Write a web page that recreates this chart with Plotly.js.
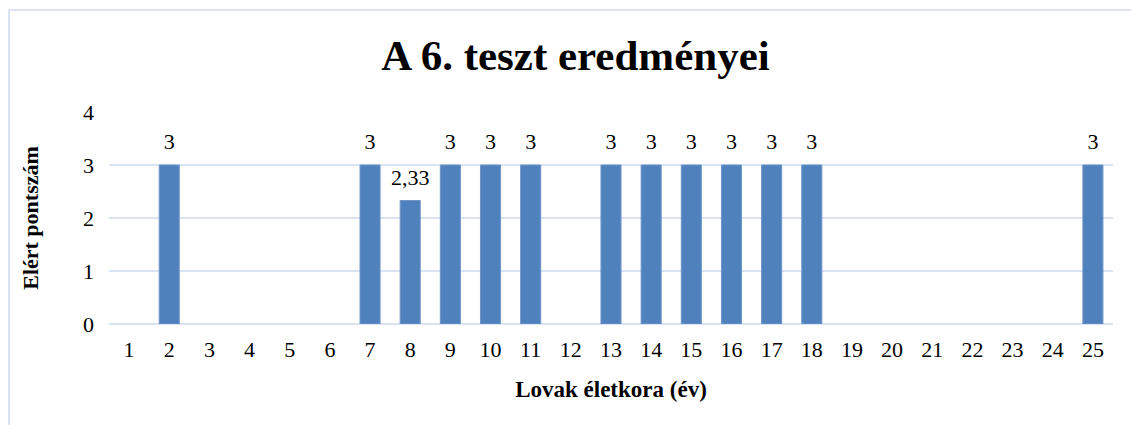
<!DOCTYPE html>
<html>
<head>
<meta charset="utf-8">
<script src="https://cdn.plot.ly/plotly-3.0.1.min.js"></script>
<style>
html,body{margin:0;padding:0;background:#fff;overflow:hidden;}
#wrap{position:relative;width:1131px;height:425px;}
#chart{position:absolute;left:0;top:0;width:1131px;height:425px;}
#frame{position:absolute;left:8px;top:9px;width:1200px;height:500px;border-left:2px solid #dae3f3;border-top:2px solid #dae3f3;pointer-events:none;}
</style>
</head>
<body>
<div id="wrap"><div id="chart"></div><div id="frame"></div></div>
<script>
const categories = ['1','2','3','4','5','6','7','8','9','10','11','12','13','14','15','16','17','18','19','20','21','22','23','24','25'];
const scores = [null,3,null,null,null,null,3,2.33,3,3,3,null,3,3,3,3,3,3,null,null,null,null,null,null,3];
const chartTitle = 'A 6. teszt eredményei';
const xTitle = 'Lovak életkora (év)';
const yTitle = 'Elért pontszám';
const yTicks = [0,1,2,3,4];

const font = 'Liberation Serif';
const grid = '#dae3f3';

Plotly.newPlot('chart', [{
  type: 'bar',
  x: categories,
  y: scores,
  marker: {color: '#4f81bd', line: {color: '#6f96c9', width: 1}},
  hoverinfo: 'none'
}, {
  type: 'scatter',
  mode: 'markers+text',
  x: categories,
  y: scores,
  marker: {size: 15, color: 'rgba(0,0,0,0)'},
  texttemplate: '%{y}',
  textposition: 'top center',
  cliponaxis: false,
  textfont: {family: font, size: 22, color: '#000'},
  hoverinfo: 'none'
}], {
  width: 1131, height: 425,
  margin: {l: 109, r: 18, t: 112, b: 101, pad: 0},
  paper_bgcolor: '#fff', plot_bgcolor: '#fff',
  separators: ', ',
  bargap: 0.5,
  showlegend: false,
  font: {family: font, color: '#000'},
  title: {text: '<b>' + chartTitle + '</b>', font: {family: font, size: 43, color: '#000'},
          x: 575.5/1131, xref: 'container', xanchor: 'center', y: 1 - 55/425, yanchor: 'middle'},
  xaxis: {type: 'category', categoryarray: categories, categoryorder: 'array',
          range: [-0.5, categories.length - 0.5], autorange: false,
          showgrid: false, zeroline: false, showline: false, ticks: '',
          tickfont: {family: font, size: 22, color: '#000'}, ticklabelstandoff: 10,
          title: {text: '<b>' + xTitle + '</b>', font: {family: font, size: 23, color: '#000'}, standoff: 19}},
  yaxis: {range: [0, 4], autorange: false, tickvals: yTicks, showgrid: true, gridcolor: grid, gridwidth: 1.5,
          zeroline: true, zerolinecolor: grid, zerolinewidth: 1.5, showline: false, ticks: '',
          tickfont: {family: font, size: 22, color: '#000'}, ticklabelstandoff: 14,
          title: {text: '<b>' + yTitle + '</b>', font: {family: font, size: 22, color: '#000'}, standoff: 38}}
}, {displayModeBar: false, staticPlot: true});
</script>
</body>
</html>
